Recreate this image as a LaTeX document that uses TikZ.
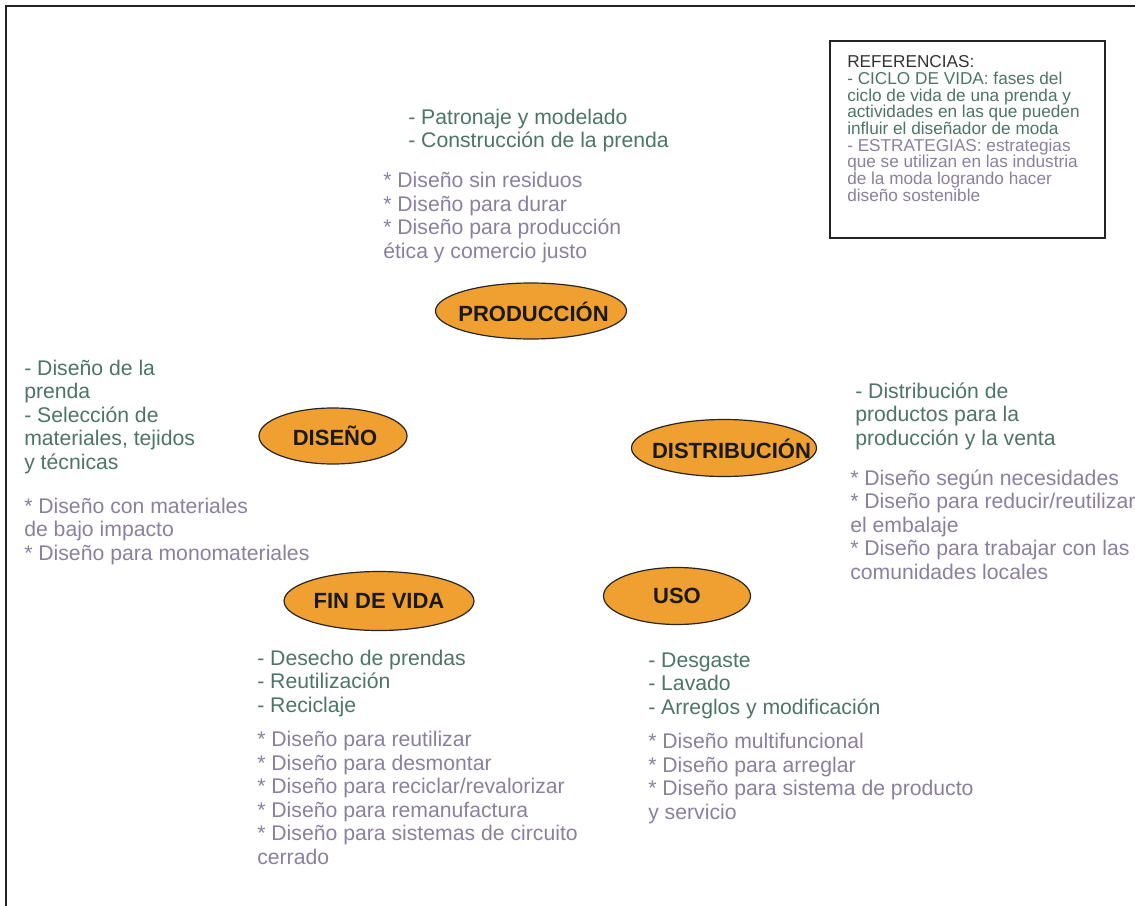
\documentclass[tikz,border=0pt]{standalone}
\usepackage{fontspec}
\setmainfont{Liberation Sans}
\usetikzlibrary{shapes.geometric}
\definecolor{cvgreen}{HTML}{4C7468}
\definecolor{stpurple}{HTML}{8A809E}
\definecolor{phase}{HTML}{F0A030}
\definecolor{frame}{HTML}{222222}
\begin{document}
\begin{tikzpicture}[x=0.75pt,y=-0.75pt,
  phasenode/.style={ellipse,draw=black!85,line width=0.9pt,fill=phase,inner sep=0pt},
  phaselabel/.style={inner sep=0pt,font=\fontsize{16.5}{18}\selectfont\bfseries,text=black!90},
  cyclebox/.style={anchor=base west,inner sep=0pt,align=left,text=cvgreen,
    font=\fontsize{15.9}{17.6}\selectfont},
  stratbox/.style={anchor=base west,inner sep=0pt,align=left,text=stpurple,
    font=\fontsize{15.9}{17.6}\selectfont},
  refbox/.style={draw=frame,line width=1.4pt,inner sep=0pt}]
\useasboundingbox (0,0) rectangle (1135,906);
% outer frame (top and left edges visible)
\coordinate (fA) at (6,906);
\coordinate (fB) at (6,6);
\coordinate (fC) at (1135,6);
\draw[frame,line width=1.6pt] (fA) -- (fB) -- (fC);

% reference box
\node[refbox,minimum width=275*0.75pt,minimum height=197*0.75pt] (ref) at (967.5,139.5) {};
\node[anchor=base west,inner sep=0pt,align=left,font=\fontsize{12.9}{12.5}\selectfont] (reftxt) at (847,201)
 {\textcolor{black!80}{REFERENCIAS:}\\
  \textcolor{cvgreen}{- CICLO DE VIDA: fases del}\\
  \textcolor{cvgreen}{ciclo de vida de una prenda y}\\
  \textcolor{cvgreen}{actividades en las que pueden}\\
  \textcolor{cvgreen}{influir el diseñador de moda}\\
  \textcolor{stpurple}{- ESTRATEGIAS: estrategias}\\
  \textcolor{stpurple}{que se utilizan en las industria}\\
  \textcolor{stpurple}{de la moda logrando hacer}\\
  \textcolor{stpurple}{diseño sostenible}};

% phases
\node[phasenode,minimum width=191*0.75pt,minimum height=56*0.75pt] (prod) at (531,311) {};
\node[phaselabel] (prodl) at (533.5,312) {PRODUCCIÓN};
\node[phasenode,minimum width=148*0.75pt,minimum height=56*0.75pt] (dis) at (333,436) {};
\node[phaselabel] (disl) at (335,436) {DISEÑO};
\node[phasenode,minimum width=185*0.75pt,minimum height=57*0.75pt] (distr) at (724,448) {};
\node[phaselabel] (distrl) at (731.5,449) {DISTRIBUCIÓN};
\node[phasenode,minimum width=147*0.75pt,minimum height=57*0.75pt] (uso) at (677,596) {};
\node[phaselabel] (usol) at (uso.center) {USO};
\node[phasenode,minimum width=190*0.75pt,minimum height=59*0.75pt] (fin) at (379,601) {};
\node[phaselabel] (finl) at (fin.center) {FIN DE VIDA};

% producción
\node[cyclebox] (prodc) at (408,147.5) {- Patronaje y modelado\\- Construcción de la prenda};
\node[stratbox] (prods) at (383,258) {* Diseño sin residuos\\* Diseño para durar\\* Diseño para producción\\ética y comercio justo};

% diseño
\node[cyclebox] (disc) at (24,469) {- Diseño de la\\prenda\\- Selección de\\materiales, tejidos\\y técnicas};
\node[stratbox] (diss) at (24,560) {* Diseño con materiales\\de bajo impacto\\* Diseño para monomateriales};

% distribución
\node[cyclebox] (distrc) at (855,445) {- Distribución de\\productos para la\\producción y la venta};
\node[stratbox] (distrs) at (850,579) {* Diseño según necesidades\\* Diseño para reducir/reutilizar\\el embalaje\\* Diseño para trabajar con las\\comunidades locales};

% fin de vida
\node[cyclebox] (finc) at (257,712) {- Desecho de prendas\\- Reutilización\\- Reciclaje};
\node[stratbox] (fins) at (257,864) {* Diseño para reutilizar\\* Diseño para desmontar\\* Diseño para reciclar/revalorizar\\* Diseño para remanufactura\\* Diseño para sistemas de circuito\\cerrado};

% uso
\node[cyclebox] (usoc) at (648,714) {- Desgaste\\- Lavado\\- Arreglos y modificación};
\node[stratbox] (usos) at (648,819) {* Diseño multifuncional\\* Diseño para arreglar\\* Diseño para sistema de producto\\y servicio};
\end{tikzpicture}
\end{document}
